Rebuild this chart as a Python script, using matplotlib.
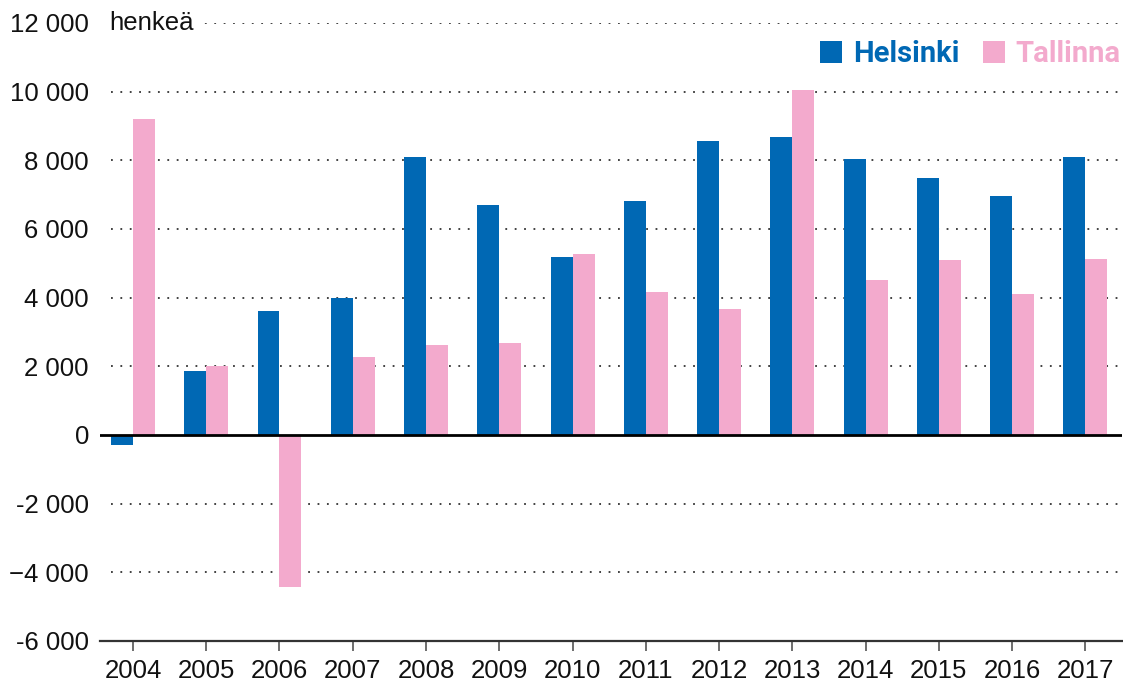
import matplotlib
matplotlib.use("Agg")
import matplotlib.pyplot as plt
import numpy as np

years = ["2004", "2005", "2006", "2007", "2008", "2009", "2010",
         "2011", "2012", "2013", "2014", "2015", "2016", "2017"]
helsinki = [-290, 1860, 3610, 3990, 8090, 6700, 5180,
            6810, 8560, 8680, 8030, 7480, 6960, 8090]
tallinna = [9200, 2000, -4420, 2270, 2620, 2680, 5270,
            4160, 3670, 10040, 4510, 5090, 4100, 5120]
yticks = [-6000, -4000, -2000, 0, 2000, 4000, 6000, 8000, 10000, 12000]
ytick_labels = ["-6 000", "\u22124 000", "-2 000", "0", "2 000", "4 000",
                "6 000", "8 000", "10 000", "12 000"]
unit_label = "henkeä"
series_names = ["Helsinki", "Tallinna"]

BLUE = "#0068B4"
PINK = "#F3AACD"
FONT = "Liberation Sans"

plt.rcParams["font.family"] = [FONT, "DejaVu Sans"]

fig = plt.figure(figsize=(11.23, 6.82), dpi=100)
ax = fig.add_axes([100 / 1123, 1 - 641 / 682, 1022 / 1123, (641 - 23) / 682])

x = np.arange(len(years))
w = 0.30
ax.bar(x - w / 2, helsinki, width=w, color=BLUE, label=series_names[0], zorder=3)
ax.bar(x + w / 2, tallinna, width=w, color=PINK, label=series_names[1], zorder=3)

ax.set_xlim(-0.45, len(years) - 0.5)
ax.set_ylim(yticks[0], yticks[-1])

# gridlines
for yv in yticks[1:]:
    if yv == 0:
        continue
    ax.axhline(yv, xmin=0.011, xmax=1, color="#333333", lw=1.3,
               linestyle=(0, (1, 4.2)), zorder=1)
ax.axhline(0, color="black", lw=2.0, zorder=4)

ax.set_yticks(yticks)
ax.set_yticklabels(ytick_labels)
ax.set_xticks(x)
ax.set_xticklabels(years)
ax.tick_params(axis="y", length=0, pad=8, labelsize=18.5, labelcolor="#111111")
ax.tick_params(axis="x", length=7, width=1.2, color="#555555", pad=6,
               labelsize=18.5, labelcolor="#111111")

for s in ["top", "right", "left"]:
    ax.spines[s].set_visible(False)
ax.spines["bottom"].set_color("#333333")
ax.spines["bottom"].set_linewidth(1.6)

ax.text(0.0095, 1.0, unit_label, transform=ax.transAxes, ha="left", va="center",
        fontsize=18.5, color="#111111", zorder=5,
        bbox=dict(facecolor="white", edgecolor="none", pad=4))

leg = ax.legend(loc="upper right", bbox_to_anchor=(0.999, 0.972), ncol=2,
                frameon=False, prop={"family": "Roboto", "weight": "bold", "size": 21},
                handlelength=0.78, handleheight=0.78, handletextpad=0.36,
                columnspacing=0.8, borderaxespad=0.0, borderpad=0.0,
                labelcolor=[BLUE, PINK])

fig.savefig("out.png", dpi=100, facecolor="white")
